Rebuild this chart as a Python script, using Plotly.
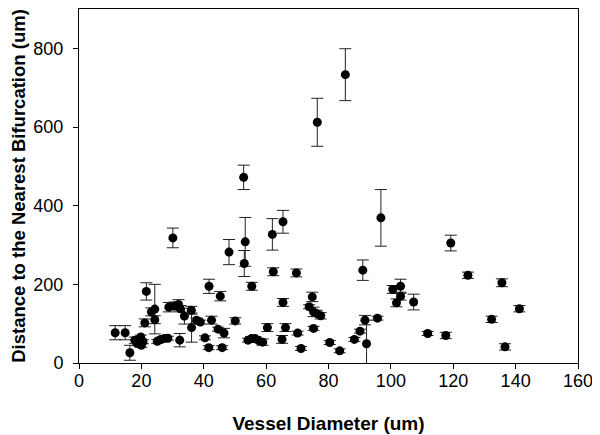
import plotly.graph_objects as go

vessel_diameter = [11.6, 14.8, 16.3, 17.9, 19.3, 19.8, 20.0, 18.6, 20.5, 21.6,
                   21.1, 23.2, 24.3, 24.3, 25.1, 26.2, 27.3, 28.5, 28.8, 30.7,
                   31.9, 32.5, 33.8, 36.0, 36.1, 37.7, 38.9, 32.3, 40.4, 41.6,
                   42.5, 41.7, 44.6, 46.5, 45.3, 45.9, 48.1, 50.1, 52.8, 53.3,
                   53.0, 55.4, 54.2, 55.3, 56.5, 57.6, 58.9, 60.4, 62.0, 62.3,
                   65.4, 65.4, 66.2, 65.1, 69.7, 70.1, 71.2, 74.8, 73.8, 75.2,
                   76.2, 77.5, 75.2, 76.4, 85.4, 96.8, 91.0, 80.4, 83.6, 88.3,
                   90.1, 91.7, 92.2, 95.7, 100.6, 103.1, 103.1, 101.8, 107.3, 111.8,
                   117.6, 119.2, 124.7, 132.3, 135.6, 141.2, 136.6, 30.1]
distance = [77, 77, 26, 58, 58, 66, 45, 50, 54, 182,
            102, 130, 137, 110, 55, 60, 62, 63, 142, 145,
            149, 138, 119, 134, 90, 109, 104, 58, 64, 39,
            109, 195, 86, 76, 170, 39, 282, 107, 472, 308,
            253, 195, 58, 62, 62, 57, 53, 90, 327, 232,
            359, 154, 90, 60, 229, 76, 37, 168, 143, 130,
            126, 120, 88, 612, 733, 369, 236, 52, 31, 60,
            81, 109, 49, 114, 187, 195, 170, 153, 155, 75,
            70, 305, 223, 111, 204, 138, 41, 318]
distance_err = [18, 18, 19, 8, 5, 5, 5, 5, 5, 22,
                10, 10, 63, 10, 5, 5, 5, 5, 12, 10,
                12, 8, 20, 10, 37, 5, 5, 17, 5, 5,
                10, 18, 5, 12, 12, 5, 32, 8, 31, 62,
                33, 10, 5, 5, 5, 5, 8, 10, 40, 10,
                29, 10, 10, 10, 10, 5, 5, 12, 5, 12,
                8, 8, 5, 61, 66, 72, 26, 5, 5, 5,
                5, 12, 60, 5, 10, 18, 10, 10, 20, 5,
                8, 20, 8, 8, 10, 8, 8, 25]

x_ticks = [0, 20, 40, 60, 80, 100, 120, 140, 160]
y_ticks = [0, 200, 400, 600, 800]

fig = go.Figure()
fig.add_trace(go.Scatter(
    x=vessel_diameter, y=distance, mode="markers",
    marker=dict(color="black", size=9, line=dict(width=0)),
    error_y=dict(type="data", array=distance_err, visible=True,
                 color="#222222", thickness=1, width=6),
    showlegend=False, cliponaxis=True,
))

font_family = "Liberation Sans, Arial, sans-serif"
# page body has an 8px default margin, so the figure is sized to fit the window
fig.update_layout(
    width=592, height=427,
    margin=dict(l=71, r=22, t=1, b=72, autoexpand=False),
    paper_bgcolor="white", plot_bgcolor="white",
    font=dict(family=font_family, color="black", size=18),
    xaxis=dict(range=[0, 160], tickvals=x_ticks, ticks="outside", ticklen=5,
               tickwidth=1, tickcolor="black", showline=True, linecolor="black",
               linewidth=1, mirror=True, showgrid=False, zeroline=False,
               tickfont=dict(size=18), ticklabelstandoff=-4,
               ticklabeloverflow="allow",
               title=dict(text="<b>Vessel Diameter (um)</b>", font=dict(size=19),
                          standoff=27)),
    yaxis=dict(range=[0, 900], tickvals=y_ticks, ticks="outside", ticklen=5,
               tickwidth=1, tickcolor="black", showline=True, linecolor="black",
               linewidth=1, mirror=True, showgrid=False, zeroline=False,
               tickfont=dict(size=18), ticklabelstandoff=6,
               title=dict(text="<b>Distance to the Nearest Bifurcation (um)</b>",
                          font=dict(size=18.5), standoff=13)),
)

fig.write_html("out.html")
